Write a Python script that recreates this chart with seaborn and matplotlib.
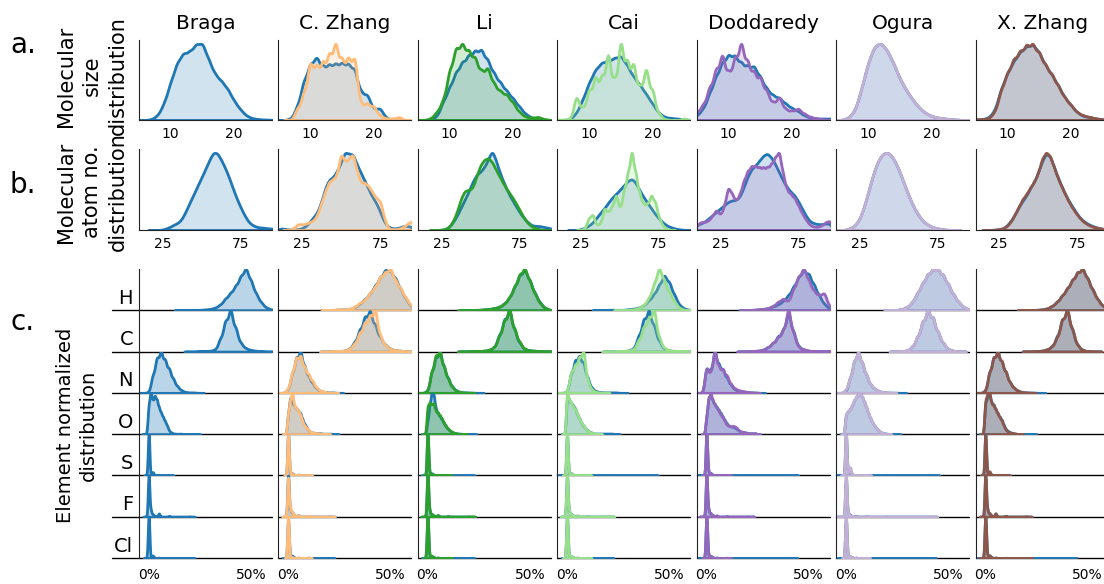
import numpy as np
import matplotlib
matplotlib.use("Agg")
import matplotlib.pyplot as plt
import seaborn as sns
from matplotlib.ticker import PercentFormatter

names = ["Braga", "C. Zhang", "Li", "Cai", "Doddaredy", "Ogura", "X. Zhang"]
colors = ["#1f77b4", "#ffbb78", "#2ca02c", "#98df8a", "#9467bd", "#c5b0d5", "#8c564b"]
ref_color = "#1f77b4"
elements = ["H", "C", "N", "O", "S", "F", "Cl"]

# ---- row a: molecular size (heavy atoms), read at integer sizes 5..26
size_x = np.arange(5, 27)
size_ref = [
    [0, 0, 0.01, 0.06, 0.22, 0.48, 0.72, 0.84, 0.85, 0.95, 0.97, 0.75, 0.57, 0.49, 0.39, 0.24, 0.13, 0.05, 0.02, 0.01, 0.005, 0.003],
    [0, 0, 0.02, 0.2, 0.55, 0.78, 0.88, 0.74, 0.77, 0.78, 0.79, 0.78, 0.72, 0.38, 0.36, 0.15, 0.17, 0.03, 0, 0, 0, 0],
    [0, 0, 0, 0.05, 0.25, 0.44, 0.64, 0.77, 0.86, 0.92, 0.94, 0.8, 0.62, 0.5, 0.39, 0.29, 0.18, 0.08, 0.03, 0.01, 0.005, 0],
    [0, 0, 0.01, 0.1, 0.3, 0.55, 0.74, 0.84, 0.87, 0.9, 0.95, 0.8, 0.63, 0.52, 0.38, 0.24, 0.1, 0.04, 0.03, 0.02, 0.01, 0],
    [0.06, 0.15, 0.36, 0.58, 0.77, 0.87, 0.86, 0.76, 0.72, 0.72, 0.58, 0.42, 0.33, 0.3, 0.22, 0.16, 0.12, 0.06, 0.03, 0.02, 0.02, 0.02],
    [0, 0, 0.03, 0.12, 0.4, 0.72, 0.93, 0.98, 0.88, 0.72, 0.52, 0.38, 0.26, 0.16, 0.09, 0.05, 0.03, 0.02, 0.01, 0.005, 0, 0],
    [0.01, 0.01, 0.03, 0.12, 0.42, 0.62, 0.78, 0.9, 0.97, 1.0, 0.9, 0.72, 0.6, 0.46, 0.3, 0.2, 0.1, 0.05, 0.04, 0.02, 0.01, 0],
]
size_set = [
    [0, 0, 0.01, 0.06, 0.22, 0.48, 0.72, 0.84, 0.85, 0.95, 0.97, 0.75, 0.57, 0.49, 0.39, 0.24, 0.13, 0.05, 0.02, 0.01, 0.005, 0.003],
    [0, 0, 0, 0.15, 0.35, 0.75, 0.7, 0.75, 0.85, 1.0, 0.78, 0.8, 0.82, 0.2, 0.22, 0.18, 0.06, 0.02, 0.02, 0.04, 0, 0],
    [0, 0, 0.02, 0.1, 0.25, 0.62, 0.9, 0.95, 0.86, 0.78, 0.6, 0.66, 0.45, 0.36, 0.32, 0.22, 0.1, 0.04, 0.03, 0.04, 0.01, 0],
    [0.005, 0.005, 0.02, 0.3, 0.15, 0.38, 0.55, 0.55, 0.85, 0.5, 1.0, 0.75, 0.72, 0.42, 0.66, 0.38, 0.08, 0.01, 0, 0, 0.02, 0],
    [0.1, 0.2, 0.42, 0.65, 0.85, 0.6, 0.8, 1.0, 0.75, 0.62, 0.55, 0.38, 0.22, 0.3, 0.14, 0.12, 0.15, 0.08, 0.04, 0.02, 0.01, 0],
    [0, 0, 0.03, 0.12, 0.4, 0.72, 0.93, 0.98, 0.88, 0.72, 0.52, 0.38, 0.26, 0.16, 0.09, 0.05, 0.03, 0.02, 0.01, 0.005, 0, 0],
    [0.01, 0.01, 0.02, 0.1, 0.4, 0.62, 0.8, 0.9, 0.98, 1.0, 0.88, 0.72, 0.6, 0.45, 0.3, 0.2, 0.1, 0.06, 0.04, 0.02, 0.01, 0],
]
size_bw_ref = [0.55, 0.5, 0.5, 0.55, 0.5, 0.6, 0.55]
size_bw_set = [0.55, 0.45, 0.48, 0.42, 0.45, 0.6, 0.5]

# ---- row b: atom number, read every 2.5 atoms from 10 to 95
atoms_x = np.arange(10, 95.1, 2.5)
atoms_ref = [
    [0, 0, 0, 0, 0, 0, 0.005, 0.02, 0.04, 0.07, 0.09, 0.14, 0.24, 0.35, 0.45, 0.56, 0.66, 0.77, 0.88, 0.98, 0.97, 0.88, 0.78, 0.66, 0.52, 0.39, 0.28, 0.18, 0.1, 0.06, 0.04, 0.03, 0.03, 0.02, 0.02],
    [0.01, 0.02, 0.01, 0.005, 0.005, 0.01, 0.02, 0.05, 0.1, 0.16, 0.22, 0.35, 0.52, 0.62, 0.64, 0.72, 0.82, 0.96, 0.92, 0.93, 0.8, 0.7, 0.6, 0.5, 0.4, 0.33, 0.22, 0.1, 0.04, 0.02, 0.02, 0.03, 0.05, 0.05, 0.04],
    [0, 0, 0, 0, 0, 0, 0, 0.01, 0.04, 0.1, 0.18, 0.28, 0.38, 0.48, 0.6, 0.69, 0.72, 0.78, 0.88, 1.0, 0.85, 0.7, 0.58, 0.47, 0.38, 0.3, 0.22, 0.15, 0.1, 0.06, 0.05, 0.05, 0.04, 0.03, 0.02],
    [0, 0, 0, 0, 0, 0, 0.01, 0.03, 0.06, 0.1, 0.17, 0.24, 0.3, 0.38, 0.45, 0.5, 0.56, 0.62, 0.68, 0.72, 0.66, 0.55, 0.46, 0.38, 0.3, 0.22, 0.16, 0.1, 0.06, 0.04, 0.02, 0.01, 0.005, 0, 0],
    [0.06, 0.08, 0.1, 0.14, 0.18, 0.22, 0.26, 0.3, 0.34, 0.36, 0.36, 0.4, 0.52, 0.65, 0.74, 0.78, 0.84, 0.9, 0.93, 0.88, 0.8, 0.7, 0.6, 0.52, 0.46, 0.42, 0.34, 0.25, 0.16, 0.1, 0.08, 0.07, 0.07, 0.08, 0.08],
    [0, 0, 0, 0.01, 0.03, 0.07, 0.14, 0.28, 0.45, 0.64, 0.8, 0.92, 0.98, 1.0, 0.96, 0.88, 0.77, 0.64, 0.5, 0.38, 0.27, 0.19, 0.12, 0.08, 0.05, 0.03, 0.02, 0.01, 0.005, 0, 0, 0, 0, 0, 0],
    [0, 0, 0, 0, 0, 0.005, 0.01, 0.02, 0.06, 0.12, 0.2, 0.3, 0.38, 0.45, 0.55, 0.63, 0.75, 0.9, 1.0, 0.96, 0.82, 0.68, 0.56, 0.45, 0.36, 0.28, 0.2, 0.14, 0.1, 0.07, 0.05, 0.03, 0.02, 0.01, 0.01],
]
atoms_set = [
    [0, 0, 0, 0, 0, 0, 0.005, 0.02, 0.04, 0.07, 0.09, 0.14, 0.24, 0.35, 0.45, 0.56, 0.66, 0.77, 0.88, 0.98, 0.97, 0.88, 0.78, 0.66, 0.52, 0.39, 0.28, 0.18, 0.1, 0.06, 0.04, 0.03, 0.03, 0.02, 0.02],
    [0, 0, 0, 0, 0.03, 0.08, 0.07, 0.08, 0.1, 0.12, 0.2, 0.35, 0.5, 0.62, 0.64, 0.7, 1.0, 0.85, 0.9, 0.98, 0.75, 0.6, 0.6, 0.56, 0.48, 0.4, 0.38, 0.15, 0.02, 0.01, 0.01, 0.02, 0.04, 0.08, 0.12],
    [0, 0, 0, 0, 0, 0, 0.005, 0.01, 0.03, 0.1, 0.2, 0.35, 0.44, 0.44, 0.46, 0.6, 0.72, 0.78, 0.8, 0.75, 0.66, 0.58, 0.5, 0.43, 0.37, 0.3, 0.22, 0.14, 0.08, 0.04, 0.02, 0.01, 0, 0, 0],
    [0, 0, 0, 0, 0, 0, 0, 0.02, 0.15, 0.2, 0.06, 0.08, 0.28, 0.22, 0.3, 0.45, 0.25, 0.5, 0.7, 1.0, 0.7, 0.45, 0.32, 0.32, 0.44, 0.35, 0.15, 0.05, 0.01, 0, 0, 0, 0, 0, 0],
    [0.06, 0.1, 0.1, 0.12, 0.18, 0.26, 0.18, 0.3, 0.55, 0.45, 0.36, 0.45, 0.62, 0.74, 0.8, 0.8, 0.78, 0.78, 0.78, 0.82, 0.9, 1.0, 0.7, 0.5, 0.45, 0.4, 0.3, 0.2, 0.12, 0.06, 0.04, 0.04, 0.06, 0.1, 0.12],
    [0, 0, 0, 0.01, 0.03, 0.07, 0.14, 0.28, 0.45, 0.64, 0.8, 0.92, 0.98, 1.0, 0.96, 0.88, 0.77, 0.64, 0.5, 0.38, 0.27, 0.19, 0.12, 0.08, 0.05, 0.03, 0.02, 0.01, 0.005, 0, 0, 0, 0, 0, 0],
    [0, 0, 0, 0, 0, 0.005, 0.01, 0.02, 0.05, 0.11, 0.2, 0.3, 0.4, 0.46, 0.55, 0.62, 0.74, 0.92, 1.0, 0.95, 0.8, 0.66, 0.55, 0.44, 0.34, 0.26, 0.19, 0.13, 0.09, 0.06, 0.04, 0.03, 0.02, 0.01, 0.01],
]
atoms_bw_ref = [1.6, 1.5, 1.5, 1.6, 1.5, 1.7, 1.5]
atoms_bw_set = [1.6, 1.4, 1.5, 1.2, 1.3, 1.7, 1.4]

# ---- row c: element fractions
hc_x = np.arange(0.20, 0.601, 0.025)
h_ref = [
    [0.01, 0.01, 0.01, 0.02, 0.03, 0.06, 0.13, 0.27, 0.4, 0.56, 0.78, 0.98, 0.68, 0.38, 0.18, 0.06, 0.02],
    [0, 0.01, 0.02, 0.02, 0.03, 0.07, 0.16, 0.26, 0.4, 0.58, 0.78, 0.95, 0.95, 0.75, 0.5, 0.28, 0.1],
    [0, 0.01, 0.01, 0.02, 0.03, 0.05, 0.08, 0.16, 0.3, 0.55, 0.82, 0.98, 0.7, 0.4, 0.18, 0.05, 0.01],
    [0.01, 0.01, 0.01, 0.01, 0.02, 0.03, 0.05, 0.1, 0.2, 0.32, 0.5, 0.7, 0.55, 0.3, 0.1, 0.03, 0.01],
    [0, 0.01, 0.02, 0.03, 0.05, 0.09, 0.14, 0.22, 0.35, 0.55, 0.78, 0.95, 0.85, 0.6, 0.35, 0.15, 0.05],
    [0, 0, 0.01, 0.03, 0.08, 0.2, 0.42, 0.65, 0.86, 0.98, 0.98, 0.84, 0.62, 0.38, 0.2, 0.08, 0.02],
    [0, 0.01, 0.01, 0.02, 0.04, 0.1, 0.2, 0.35, 0.52, 0.72, 0.9, 1.0, 0.75, 0.48, 0.25, 0.1, 0.03],
]
h_set = [
    [0.01, 0.01, 0.01, 0.02, 0.03, 0.06, 0.13, 0.27, 0.4, 0.56, 0.78, 0.98, 0.68, 0.38, 0.18, 0.06, 0.02],
    [0, 0.01, 0.03, 0.02, 0.04, 0.08, 0.18, 0.24, 0.42, 0.55, 0.8, 0.9, 1.0, 0.7, 0.52, 0.3, 0.12],
    [0, 0.01, 0.01, 0.02, 0.03, 0.05, 0.08, 0.15, 0.3, 0.56, 0.85, 1.0, 0.68, 0.38, 0.16, 0.05, 0.01],
    [0, 0, 0, 0, 0.01, 0.02, 0.05, 0.12, 0.28, 0.6, 1.0, 0.68, 0.42, 0.2, 0.05, 0.01, 0],
    [0, 0.01, 0.02, 0.03, 0.05, 0.1, 0.2, 0.28, 0.2, 0.5, 0.78, 1.0, 0.7, 0.45, 0.35, 0.42, 0.1],
    [0, 0, 0.01, 0.03, 0.08, 0.2, 0.42, 0.65, 0.86, 0.98, 0.98, 0.84, 0.62, 0.38, 0.2, 0.08, 0.02],
    [0, 0.01, 0.01, 0.02, 0.04, 0.1, 0.2, 0.35, 0.52, 0.72, 0.9, 1.0, 0.75, 0.48, 0.25, 0.1, 0.03],
]
c_ref = [
    [0, 0, 0.01, 0.01, 0.02, 0.05, 0.3, 0.72, 1.0, 0.55, 0.2, 0.08, 0.04, 0.02, 0.01, 0, 0],
    [0, 0.01, 0.01, 0.02, 0.06, 0.2, 0.45, 0.72, 0.85, 0.55, 0.3, 0.14, 0.06, 0.03, 0.02, 0, 0],
    [0, 0.01, 0.01, 0.02, 0.04, 0.1, 0.38, 0.75, 1.0, 0.5, 0.2, 0.06, 0.03, 0.02, 0.01, 0, 0],
    [0, 0, 0.01, 0.01, 0.02, 0.06, 0.3, 0.62, 0.8, 0.5, 0.2, 0.06, 0.02, 0.01, 0.01, 0, 0],
    [0, 0.01, 0.02, 0.04, 0.1, 0.2, 0.35, 0.5, 0.92, 0.45, 0.12, 0.05, 0.02, 0.01, 0.01, 0.01, 0.01],
    [0, 0, 0, 0.01, 0.03, 0.12, 0.35, 0.7, 0.98, 0.8, 0.45, 0.2, 0.06, 0.02, 0, 0, 0],
    [0, 0, 0.01, 0.02, 0.05, 0.12, 0.35, 0.75, 1.0, 0.5, 0.15, 0.04, 0.01, 0, 0, 0, 0],
]
c_set = [
    [0, 0, 0.01, 0.01, 0.02, 0.05, 0.3, 0.72, 1.0, 0.55, 0.2, 0.08, 0.04, 0.02, 0.01, 0, 0],
    [0, 0.01, 0.01, 0.02, 0.06, 0.18, 0.42, 0.65, 0.8, 0.95, 0.35, 0.14, 0.06, 0.03, 0.02, 0, 0],
    [0, 0.01, 0.01, 0.02, 0.04, 0.1, 0.36, 0.72, 1.0, 0.52, 0.22, 0.06, 0.03, 0.02, 0.01, 0, 0],
    [0, 0, 0.01, 0.01, 0.02, 0.05, 0.25, 0.55, 0.75, 0.95, 0.3, 0.08, 0.03, 0.02, 0.01, 0.01, 0],
    [0, 0.01, 0.02, 0.04, 0.1, 0.2, 0.33, 0.48, 1.0, 0.42, 0.1, 0.05, 0.02, 0.01, 0.01, 0.01, 0.01],
    [0, 0, 0, 0.01, 0.03, 0.12, 0.35, 0.7, 0.98, 0.8, 0.45, 0.2, 0.06, 0.02, 0, 0, 0],
    [0, 0, 0.01, 0.02, 0.05, 0.12, 0.33, 0.75, 1.0, 0.52, 0.15, 0.04, 0.01, 0, 0, 0, 0],
]
n_x = np.arange(0, 0.241, 0.02)
n_ref = [
    [0.02, 0.4, 0.8, 0.95, 0.75, 0.55, 0.32, 0.15, 0.06, 0.02, 0.01, 0.01, 0],
    [0.08, 0.45, 0.8, 0.95, 0.6, 0.38, 0.22, 0.1, 0.04, 0.02, 0.01, 0.01, 0],
    [0.05, 0.5, 0.85, 1.0, 0.62, 0.35, 0.15, 0.06, 0.02, 0.01, 0.01, 0.005, 0],
    [0.03, 0.45, 0.75, 0.85, 0.7, 0.35, 0.12, 0.04, 0.02, 0.01, 0.01, 0.01, 0.01],
    [0.6, 0.5, 1.0, 0.65, 0.55, 0.35, 0.18, 0.08, 0.04, 0.03, 0.02, 0.01, 0.01],
    [0.05, 0.35, 0.75, 1.0, 0.7, 0.42, 0.2, 0.1, 0.05, 0.02, 0.01, 0.005, 0.005],
    [0.05, 0.5, 0.85, 1.0, 0.75, 0.5, 0.25, 0.12, 0.05, 0.02, 0.01, 0.01, 0.005],
]
n_set = [
    [0.02, 0.4, 0.8, 0.95, 0.75, 0.55, 0.32, 0.15, 0.06, 0.02, 0.01, 0.01, 0],
    [0.1, 0.5, 0.85, 0.9, 0.62, 0.45, 0.28, 0.12, 0.05, 0.02, 0.01, 0, 0],
    [0.05, 0.5, 0.88, 0.98, 0.6, 0.33, 0.14, 0.05, 0.02, 0.01, 0, 0, 0],
    [0.03, 0.5, 0.65, 0.82, 1.0, 0.3, 0.08, 0.02, 0.01, 0, 0, 0, 0],
    [0.6, 0.45, 1.0, 0.6, 0.55, 0.4, 0.2, 0.1, 0.06, 0.04, 0.02, 0.01, 0],
    [0.08, 0.35, 0.75, 1.0, 0.7, 0.42, 0.2, 0.1, 0.05, 0.02, 0.01, 0, 0],
    [0.05, 0.5, 0.85, 1.0, 0.75, 0.5, 0.25, 0.12, 0.05, 0.02, 0.01, 0, 0],
]
o_x = np.arange(0, 0.241, 0.01)
o_ref = [
    [0.7, 1.0, 0.75, 0.9, 0.8, 0.62, 0.5, 0.4, 0.3, 0.2, 0.08, 0.04, 0.02, 0.01, 0.01, 0.01, 0.01, 0.005, 0.005, 0.005, 0.005, 0.005, 0.005, 0, 0],
    [0.45, 0.8, 0.7, 0.6, 0.55, 0.5, 0.45, 0.32, 0.22, 0.15, 0.08, 0.05, 0.03, 0.03, 0.02, 0.02, 0.02, 0.01, 0.01, 0.01, 0.01, 0.01, 0.005, 0, 0],
    [0.3, 0.7, 1.0, 0.95, 0.6, 0.5, 0.42, 0.35, 0.25, 0.18, 0.12, 0.08, 0.05, 0.03, 0.02, 0.01, 0.01, 0.005, 0.005, 0.005, 0.005, 0.005, 0, 0, 0],
    [0.7, 0.6, 0.55, 0.5, 0.45, 0.35, 0.28, 0.2, 0.15, 0.1, 0.07, 0.04, 0.03, 0.01, 0.01, 0.01, 0.01, 0.01, 0.01, 0.01, 0.01, 0.01, 0.01, 0.005, 0],
    [0.4, 0.9, 0.95, 0.8, 0.72, 0.65, 0.58, 0.5, 0.42, 0.33, 0.25, 0.2, 0.18, 0.18, 0.15, 0.12, 0.08, 0.06, 0.05, 0.04, 0.03, 0.02, 0.02, 0.02, 0.02],
    [0.5, 0.55, 0.6, 0.7, 0.82, 0.9, 0.97, 1.0, 0.9, 0.78, 0.65, 0.5, 0.38, 0.28, 0.2, 0.14, 0.09, 0.05, 0.03, 0.02, 0.01, 0.005, 0.005, 0.005, 0.005],
    [0.8, 0.9, 1.0, 0.75, 0.72, 0.6, 0.5, 0.42, 0.35, 0.22, 0.12, 0.08, 0.05, 0.03, 0.02, 0.01, 0.005, 0.005, 0.005, 0.005, 0.005, 0.005, 0.005, 0, 0],
]
o_set = [
    [0.7, 1.0, 0.75, 0.9, 0.8, 0.62, 0.5, 0.4, 0.3, 0.2, 0.08, 0.04, 0.02, 0.01, 0.01, 0.01, 0.01, 0.005, 0.005, 0.005, 0.005, 0.005, 0.005, 0, 0],
    [0.5, 0.8, 1.0, 0.65, 0.6, 0.55, 0.45, 0.3, 0.2, 0.15, 0.1, 0.05, 0.04, 0.03, 0.02, 0.02, 0.01, 0.01, 0.005, 0, 0, 0, 0, 0, 0],
    [0.65, 0.7, 0.65, 0.7, 0.5, 0.48, 0.42, 0.35, 0.25, 0.18, 0.12, 0.08, 0.05, 0.03, 0.02, 0.01, 0.01, 0.005, 0, 0, 0, 0, 0, 0, 0],
    [1.0, 0.75, 0.7, 0.6, 0.55, 0.45, 0.35, 0.25, 0.2, 0.12, 0.08, 0.05, 0.03, 0.02, 0.01, 0.005, 0, 0, 0, 0, 0, 0, 0, 0, 0],
    [0.45, 0.85, 1.0, 0.8, 0.7, 0.62, 0.55, 0.45, 0.4, 0.3, 0.22, 0.2, 0.18, 0.2, 0.18, 0.14, 0.08, 0.06, 0.05, 0.04, 0.03, 0.02, 0.02, 0.02, 0.02],
    [0.5, 0.55, 0.6, 0.7, 0.82, 0.9, 0.97, 1.0, 0.9, 0.78, 0.65, 0.5, 0.38, 0.28, 0.2, 0.14, 0.09, 0.05, 0.03, 0.02, 0.01, 0, 0, 0, 0],
    [0.85, 0.95, 1.0, 0.72, 0.7, 0.6, 0.5, 0.4, 0.33, 0.2, 0.1, 0.06, 0.04, 0.03, 0.02, 0.01, 0.005, 0, 0, 0, 0, 0, 0, 0, 0],
]
sfc_x = [0, 0.01, 0.02, 0.03, 0.05, 0.1, 0.2, 0.4]
s_ref = [
    [1.0, 0, 0.08, 0.01, 0.005, 0.003, 0, 0],
    [1.0, 0.05, 0.05, 0.02, 0.02, 0.01, 0, 0],
    [1.0, 0.04, 0.05, 0.02, 0.01, 0.005, 0.002, 0],
    [1.0, 0.04, 0.05, 0.02, 0.01, 0.005, 0.002, 0.001],
    [1.0, 0.06, 0.06, 0.02, 0.01, 0.005, 0.002, 0.001],
    [1.0, 0.05, 0.15, 0.03, 0.01, 0.005, 0.002, 0.001],
    [1.0, 0.04, 0.08, 0.02, 0.01, 0.005, 0, 0],
]
s_set = [
    [1.0, 0, 0.08, 0.01, 0.005, 0.003, 0, 0],
    [1.0, 0.08, 0.04, 0.02, 0.01, 0.01, 0, 0],
    [1.0, 0.05, 0.04, 0.02, 0.01, 0.005, 0, 0],
    [1.0, 0.05, 0.04, 0.02, 0.01, 0.005, 0, 0],
    [1.0, 0.08, 0.05, 0.02, 0.01, 0.005, 0, 0],
    [1.0, 0.05, 0.2, 0.03, 0.01, 0.005, 0, 0],
    [1.0, 0.05, 0.1, 0.02, 0.01, 0.005, 0, 0],
]
f_ref = [
    [1.0, 0.15, 0.06, 0.02, 0.08, 0.02, 0.005, 0],
    [1.0, 0.15, 0.1, 0.05, 0.04, 0.02, 0.005, 0],
    [1.0, 0.12, 0.06, 0.03, 0.04, 0.01, 0.003, 0],
    [1.0, 0.12, 0.06, 0.03, 0.03, 0.01, 0.003, 0],
    [1.0, 0.15, 0.08, 0.04, 0.03, 0.01, 0.003, 0],
    [1.0, 0.08, 0.05, 0.02, 0.02, 0.01, 0.003, 0.001],
    [1.0, 0.15, 0.08, 0.03, 0.08, 0.02, 0.005, 0],
]
f_set = [
    [1.0, 0.15, 0.06, 0.02, 0.08, 0.02, 0.005, 0],
    [1.0, 0.2, 0.12, 0.05, 0.04, 0.03, 0.005, 0],
    [1.0, 0.12, 0.06, 0.03, 0.04, 0.01, 0.003, 0],
    [1.0, 0.12, 0.06, 0.03, 0.03, 0.01, 0.003, 0],
    [1.0, 0.15, 0.08, 0.04, 0.03, 0.01, 0.003, 0],
    [1.0, 0.06, 0.04, 0.02, 0.01, 0.005, 0.002, 0.001],
    [1.0, 0.15, 0.08, 0.03, 0.08, 0.02, 0.005, 0],
]
cl_ref = [
    [1.0, 0, 0.06, 0.01, 0.01, 0.005, 0.003, 0],
    [1.0, 0.05, 0.06, 0.02, 0.01, 0.01, 0.003, 0],
    [1.0, 0.04, 0.05, 0.02, 0.01, 0.005, 0.003, 0],
    [1.0, 0.04, 0.05, 0.02, 0.01, 0.005, 0.003, 0],
    [1.0, 0.05, 0.05, 0.02, 0.01, 0.005, 0.003, 0.001],
    [1.0, 0.03, 0.04, 0.02, 0.01, 0.005, 0.003, 0.001],
    [1.0, 0.05, 0.06, 0.02, 0.01, 0.005, 0.003, 0.001],
]
cl_set = [
    [1.0, 0, 0.06, 0.01, 0.01, 0.005, 0.003, 0],
    [1.0, 0.02, 0.02, 0.01, 0.01, 0.005, 0, 0],
    [1.0, 0.04, 0.05, 0.02, 0.01, 0.005, 0, 0],
    [1.0, 0.04, 0.05, 0.02, 0.01, 0.005, 0, 0],
    [1.0, 0.05, 0.05, 0.02, 0.01, 0.005, 0, 0],
    [1.0, 0.03, 0.04, 0.02, 0.01, 0.005, 0, 0],
    [1.0, 0.05, 0.06, 0.02, 0.01, 0.005, 0.003, 0],
]

elem_x = [hc_x, hc_x, n_x, o_x, sfc_x, sfc_x, sfc_x]
elem_ref = [h_ref, c_ref, n_ref, o_ref, s_ref, f_ref, cl_ref]
elem_set = [h_set, c_set, n_set, o_set, s_set, f_set, cl_set]
elem_bw = [0.012, 0.011, 0.009, 0.005, 0.004, 0.004, 0.004]

W, H = 1104, 584


def px_axes(fig, left, top, width, height):
    return fig.add_axes([left / W, 1 - (top + height) / H, width / W, height / H])


def kde(ax, xs, ws, bw, color, alpha, lw=2.0):
    xs = np.asarray(xs, float)
    ws = np.asarray(ws, float)
    keep = ws > 0
    xs, ws = xs[keep], ws[keep]
    p = ws / ws.sum()
    mean = (p * xs).sum()
    sd = np.sqrt((p * (xs - mean) ** 2).sum() / (1 - (p ** 2).sum()))
    sns.kdeplot(x=xs, weights=ws, bw_method=bw / sd, fill=True, color=color,
                alpha=alpha, linewidth=lw, ax=ax)


def clean(ax):
    ax.set_ylabel("")
    ax.set_xlabel("")
    ax.set_yticks([])
    for s in ["top", "right"]:
        ax.spines[s].set_visible(False)


sns.set_style("white")
plt.rcParams["font.family"] = ["DejaVu Sans"]
plt.rcParams["text.color"] = "black"
plt.rcParams["xtick.color"] = "black"
plt.rcParams["axes.edgecolor"] = "#222222"
fig = plt.figure(figsize=(W / 100, H / 100), dpi=100)

col_left = [139 + 139.45 * i for i in range(7)]
col_w = 133
ridge_top, ridge_h = 269, 289 / 7

for i, name in enumerate(names):
    # row a
    ax = px_axes(fig, col_left[i], 40, col_w, 80)
    kde(ax, size_x, size_ref[i], size_bw_ref[i], ref_color, 0.2)
    if i > 0:
        kde(ax, size_x, size_set[i], size_bw_set[i], colors[i], 0.2)
    clean(ax)
    ax.set_xlim(5, 26)
    ax.set_xticks([10, 20])
    ax.tick_params(axis="x", length=0, pad=5, labelsize=10)
    ax.set_title(name, fontsize=14.5, pad=8)

    # row b
    ax = px_axes(fig, col_left[i], 149, col_w, 81)
    kde(ax, atoms_x, atoms_ref[i], atoms_bw_ref[i], ref_color, 0.2)
    if i > 0:
        kde(ax, atoms_x, atoms_set[i], atoms_bw_set[i], colors[i], 0.2)
    clean(ax)
    ax.set_xlim(10, 95)
    ax.set_xticks([25, 75])
    ax.tick_params(axis="x", length=0, pad=5, labelsize=10)

    # row c: ridges
    for j, el in enumerate(elements):
        ax = px_axes(fig, col_left[i], ridge_top + j * ridge_h, col_w, ridge_h)
        ax.patch.set_alpha(0)
        kde(ax, elem_x[j], elem_ref[j][i], elem_bw[j], ref_color, 0.3)
        if i > 0:
            kde(ax, elem_x[j], elem_set[j][i], elem_bw[j], colors[i], 0.3)
        clean(ax)
        ax.set_ylim(0, ax.get_ylim()[1] / 1.05)
        ax.set_xlim(-0.047, 0.603)
        ax.spines["bottom"].set_visible(False)
        x0 = -0.2 if i == 0 else 0
        ax.plot([x0, 1], [0, 0], transform=ax.get_yaxis_transform(), color="black",
                lw=1, clip_on=False, zorder=0.5)
        if j == len(elements) - 1:
            ax.set_xticks([0, 0.5])
            ax.xaxis.set_major_formatter(PercentFormatter(xmax=1, decimals=0))
            ax.tick_params(axis="x", length=0, pad=7, labelsize=10)
        else:
            ax.set_xticks([])
        if i == 0:
            ax.text(-0.045, 0.06, el, transform=ax.transAxes, ha="right", va="bottom",
                    fontsize=14)

fig.text(10 / W, 1 - 45 / H, "a.", fontsize=20, va="center")
fig.text(10 / W, 1 - 185 / H, "b.", fontsize=20, va="center")
fig.text(10 / W, 1 - 322 / H, "c.", fontsize=20, va="center")
fig.text(92 / W, 1 - 76 / H, "Molecular\nsize\ndistribution", rotation=90,
         ha="center", va="center", multialignment="center", fontsize=15, linespacing=1.35)
fig.text(92 / W, 1 - 192 / H, "Molecular\natom no.\ndistribution", rotation=90,
         ha="center", va="center", multialignment="center", fontsize=15, linespacing=1.35)
fig.text(77 / W, 1 - 425 / H, "Element normalized\ndistribution", rotation=90,
         ha="center", va="center", multialignment="center", fontsize=14, linespacing=1.3)

fig.savefig("out.png", dpi=100)
